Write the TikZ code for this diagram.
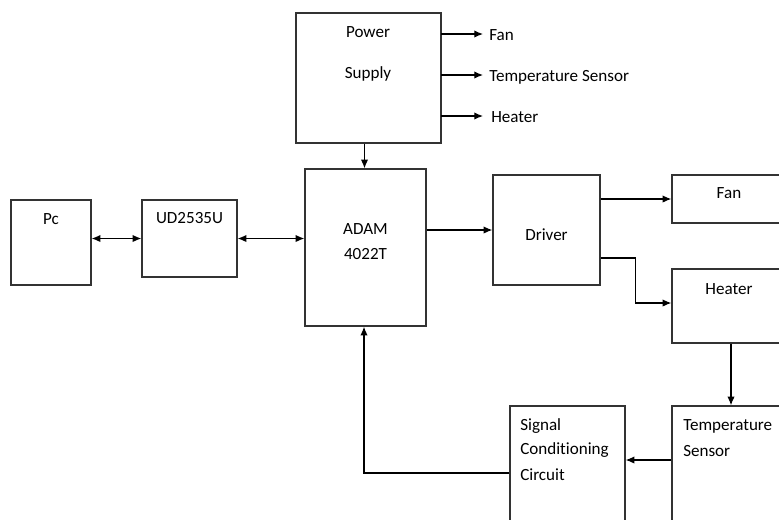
\documentclass[tikz,border=0pt]{standalone}
\usepackage{fontspec}
\setmainfont{Carlito}[Ligatures={NoCommon}]
\usetikzlibrary{arrows.meta,calc}
\begin{document}
\begin{tikzpicture}[x=0.75pt,y=-0.75pt,
  box/.style={draw=black!80,line width=1pt,inner sep=0pt,minimum width=#1},
  txt/.style={inner sep=0pt,anchor=mid,font=\fontsize{12.8pt}{15pt}\selectfont,text=black},
  ltxt/.style={inner sep=0pt,anchor=mid west,font=\fontsize{12.8pt}{15pt}\selectfont,text=black},
  conn/.style={line width=0.9pt,black,-{Latex[length=6.5pt,width=5.5pt]}},
  dconn/.style={line width=0.9pt,black,{Latex[length=6.5pt,width=5.5pt]}-{Latex[length=6.5pt,width=5.5pt]}}]
\useasboundingbox (0,0) rectangle (779,519);
\clip (0,0) rectangle (779,519);
% boxes
\node[box=108.75pt,minimum height=97.5pt] (ps) at (368.5,78) {};
\node[box=60pt,minimum height=63.75pt] (pc) at (51,242.5) {};
\node[box=71.25pt,minimum height=57.75pt] (ud) at (189.5,238.5) {};
\node[box=90.75pt,minimum height=117.75pt] (adam) at (365.5,247.5) {};
\node[box=80.25pt,minimum height=82.5pt] (drv) at (546.5,230) {};
\node[box=96pt,minimum height=36pt] (fan) at (736,199) {};
\node[box=96pt,minimum height=55.5pt] (heat) at (736,306) {};
\node[box=96pt,minimum height=100.5pt] (ts) at (736,473) {};
\node[box=86.25pt,minimum height=100.5pt] (sc) at (567.5,473) {};
% texts
\node[txt] (tpower) at (368,34.5) {Power};
\node[txt] (tsupply) at (368,75.5) {Supply};
\node[ltxt,inner xsep=4.5pt] (lfan) at (483,37) {Fan};
\node[ltxt,inner xsep=4.5pt] (lts) at (483,78) {Temperature Sensor};
\node[ltxt,inner xsep=6pt] (lheat) at (483,119) {Heater};
\node[txt] (tpc) at (51,221.5) {Pc};
\node[txt] (tud) at (189.5,220.5) {UD2535U};
\node[txt] (tadam) at (365.5,231.5) {ADAM};
\node[txt] (t4022) at (365.5,256.5) {4022T};
\node[txt] (tdrv) at (546.5,237.5) {Driver};
\node[txt] (tfan) at (729,195.5) {Fan};
\node[txt] (theat) at (729,291.5) {Heater};
\node[ltxt] (ttemp) at (683,427.5) {Temperature};
\node[ltxt] (tsens) at (683,453.5) {Sensor};
\node[ltxt] (tsig) at (520,427.5) {Signal};
\node[ltxt] (tcond) at (520,451.5) {Conditioning};
\node[ltxt] (tcirc) at (520,477.5) {Circuit};
% connectors
\coordinate (a1) at (441,34);
\coordinate (a2) at (441,75);
\coordinate (a3) at (441,116);
\draw[conn] (a1) -- (a1 -| lfan.west);
\draw[conn] (a2) -- (a2 -| lts.west);
\draw[conn] (a3) -- (a3 -| lheat.west);
\coordinate (psout) at ($(ps.south)+(-4,0)$);
\draw[conn] (psout) -- (psout |- adam.north);
\draw[dconn] (pc.east |- ud.west) -- (ud.west);
\draw[dconn] (ud.east) -- (ud.east -| adam.west);
\draw[conn] (adam.east |- drv.west) -- (drv.west);
\draw[conn] (drv.east |- fan.west) -- (fan.west);
\draw[conn] ($(drv.east)+(0,28)$) -- ++(35,0) |- ($(heat.west)+(0,-3)$);
\coordinate (hout) at ($(heat.south)+(-5,0)$);
\draw[conn] (hout) -- (hout |- ts.north);
\coordinate (tsout) at ($(ts.west)+(0,-13)$);
\draw[conn] (tsout) -- (tsout -| sc.east);
\coordinate (adin) at ($(adam.south)+(-1.5,0)$);
\draw[conn] (sc.west) -| (adin);
\end{tikzpicture}
\end{document}
